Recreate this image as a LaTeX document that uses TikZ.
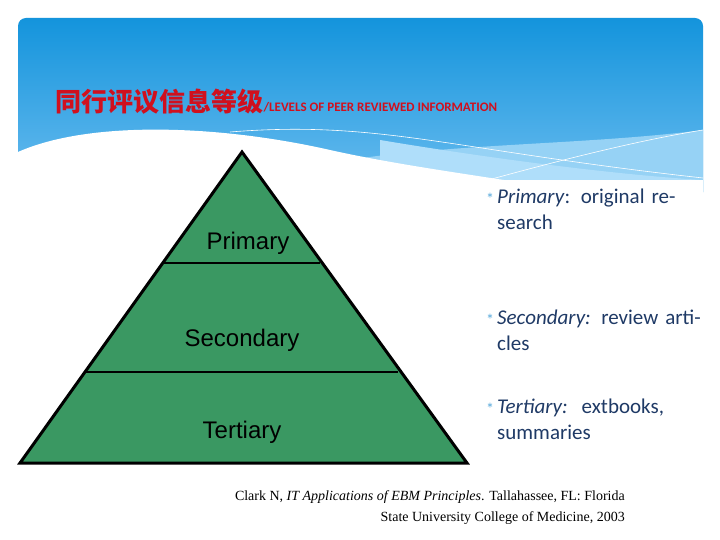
\documentclass[tikz,border=0pt]{standalone}
\usepackage{fontspec}
\setmainfont{Liberation Serif}
\newfontfamily\cjkf{Noto Sans CJK SC}
\newfontfamily\calf{Carlito}
\newfontfamily\arif{Liberation Sans}
\definecolor{navy}{HTML}{1F3A66}
\definecolor{pg}{HTML}{3A9862}
\definecolor{ttl}{HTML}{D0101E}
\definecolor{bandtop}{RGB}{20,148,220}
\definecolor{bandbot}{RGB}{110,190,240}
\definecolor{wavea}{RGB}{150,210,245}
\definecolor{waveb}{RGB}{175,222,250}
\definecolor{starc}{RGB}{90,170,220}
\begin{document}
\begin{tikzpicture}[x=1pt,y=-1pt,
  lvl/.style={font=\arif\fontsize{24}{28}\selectfont},
  bul/.style={anchor=north west,align=left,text width=210pt,inner sep=0pt,font=\calf\fontsize{21}{26}\selectfont,text=navy},
  star/.style={anchor=north west,inner sep=0pt,font=\calf\fontsize{16}{18}\selectfont,text=starc}]
\useasboundingbox (0,0) rectangle (720,540);
\fill[white] (0,0) rectangle (720,540);
% header band
\begin{scope}
\clip[rounded corners=8pt] (18,18) rectangle (703,200);
\shade[top color=bandtop, bottom color=bandbot] (18,18) rectangle (703,200);
\fill[wavea] (230,190) .. controls (350,140) and (550,150) .. (703,130) -- (703,200) -- cycle;
\fill[waveb] (380,140) .. controls (500,160) and (620,175) .. (703,180) -- (703,200) -- (380,200) -- cycle;
\fill[white] (18,152) .. controls (90,120) and (220,125) .. (330,150) .. controls (420,170) and (520,180) .. (620,200) -- (18,200) -- cycle;
\draw[white,line width=0.6pt] (230,132) .. controls (380,120) and (450,150) .. (703,178);
\draw[white,line width=0.6pt] (470,185) .. controls (560,160) and (640,140) .. (703,130);
\end{scope}
\fill[white] (18,180) rectangle (703,200);
% title
\node[anchor=base west,inner sep=0pt,text=ttl] (t1) at (55,112) {\cjkf\bfseries\fontsize{26}{28}\selectfont 同行评议信息等级};
\node[anchor=base west,inner sep=0pt,text=ttl] (t2) at (t1.base east) {\calf\bfseries\fontsize{13}{15}\selectfont /LEVELS OF PEER REVIEWED INFORMATION};
% pyramid
\coordinate (ap) at (242,152);
\coordinate (bl) at (20,463);
\coordinate (br) at (467,463);
\fill[pg] (ap) -- (bl) -- (br) -- cycle;
\draw[line width=2.2pt] (164,263) -- (320,263);
\draw[line width=2.2pt] (86,372) -- (398,372);
\draw[line width=3pt,line join=miter] (ap) -- (bl) -- (br) -- cycle;
\node[lvl] (p) at (248,243) {Primary};
\node[lvl] (s) at (242,340) {Secondary};
\node[lvl] (te) at (242,432) {Tertiary};
% bullets
\node[star] (b1) at (486,193) {*};
\node[bul] (x1) at (497,189) {\textit{Primary}: original research};
\node[star] (b2) at (486,314) {*};
\node[bul] (x2) at (497,310) {\textit{Secondary:} review articles};
\node[star] (b3) at (486,403) {*};
\node[bul] (x3) at (497,399) {\textit{Tertiary:}\ \ extbooks, summaries};
% citation
\node[anchor=north east,align=right,inner sep=0pt,font=\fontsize{14}{21}\selectfont] (c) at (625,490) {Clark N, \textit{IT Applications of EBM Principles}. Tallahassee, FL: Florida\\State University College of Medicine, 2003};
\end{tikzpicture}
\end{document}
